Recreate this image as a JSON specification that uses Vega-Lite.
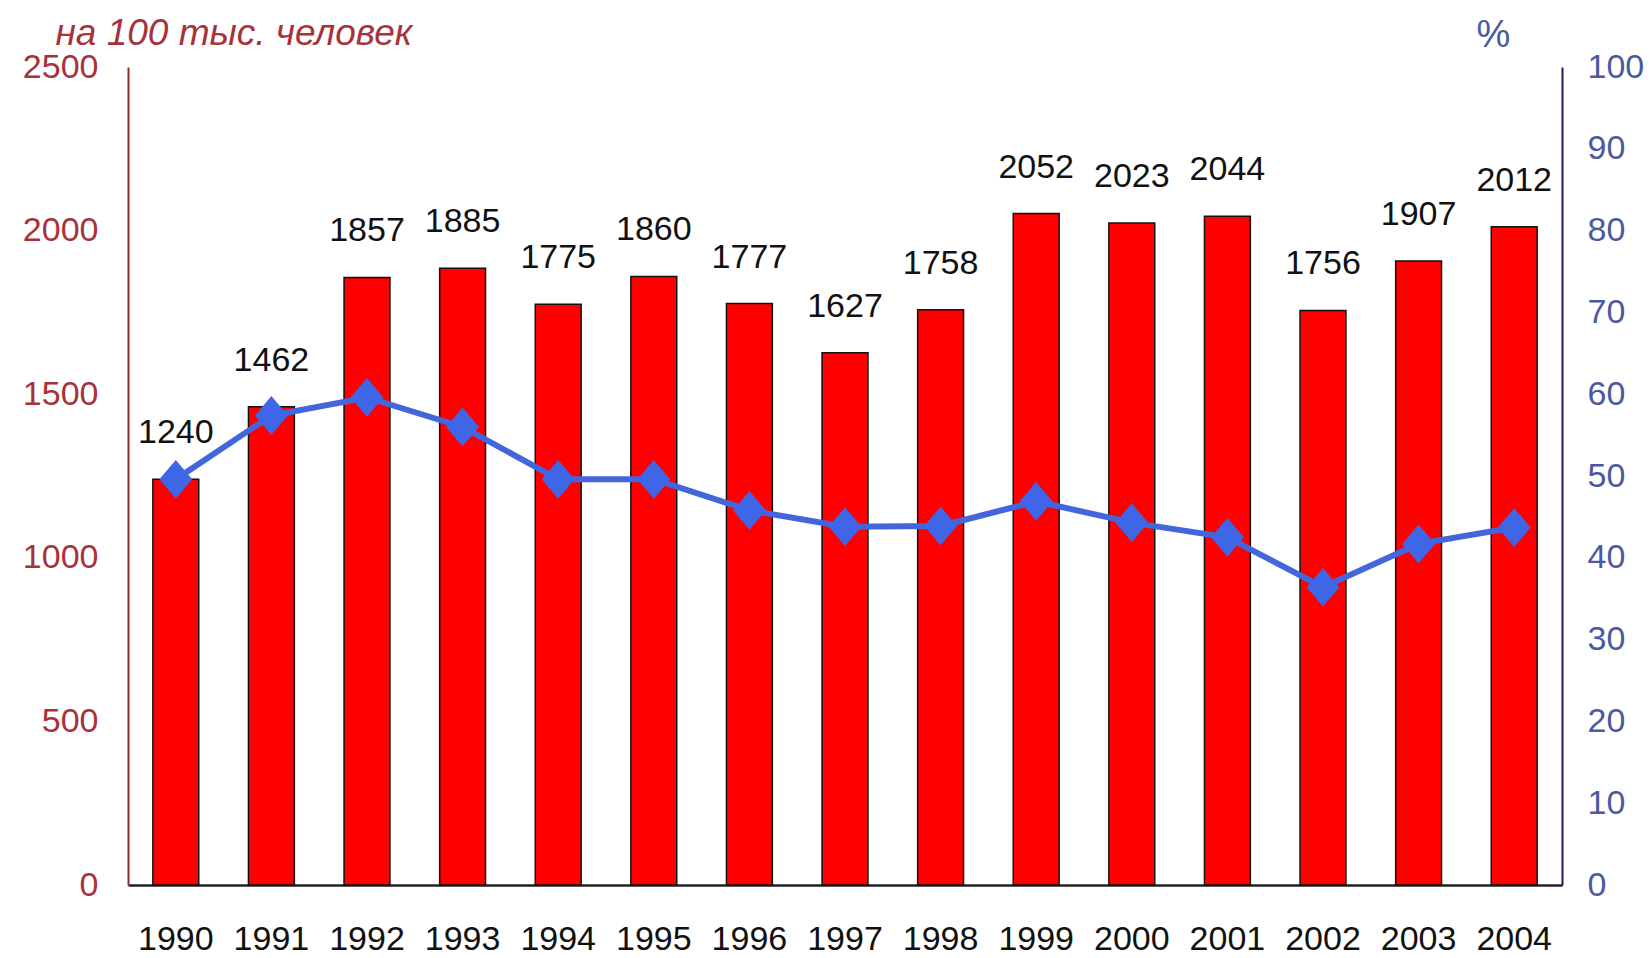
{
  "$schema": "https://vega.github.io/schema/vega-lite/v6.json",
  "autosize": {"type": "none"},
  "padding": {"left": 128, "top": 67, "right": 90, "bottom": 73},
  "width": 1434,
  "height": 818,
  "background": "white",
  "config": {
    "view": {"stroke": null},
    "font": "Liberation Sans",
    "axis": {"labelFont": "Liberation Sans", "titleFont": "Liberation Sans", "grid": false, "ticks": false, "tickSize": 0}
  },
  "data": {
    "values": [
      {"year": "1990", "value": 1240, "pct": 49.6},
      {"year": "1991", "value": 1462, "pct": 57.4},
      {"year": "1992", "value": 1857, "pct": 59.6},
      {"year": "1993", "value": 1885, "pct": 56.0},
      {"year": "1994", "value": 1775, "pct": 49.6},
      {"year": "1995", "value": 1860, "pct": 49.6},
      {"year": "1996", "value": 1777, "pct": 45.8},
      {"year": "1997", "value": 1627, "pct": 43.8},
      {"year": "1998", "value": 1758, "pct": 43.9},
      {"year": "1999", "value": 2052, "pct": 46.9},
      {"year": "2000", "value": 2023, "pct": 44.3},
      {"year": "2001", "value": 2044, "pct": 42.5},
      {"year": "2002", "value": 1756, "pct": 36.4},
      {"year": "2003", "value": 1907, "pct": 41.7},
      {"year": "2004", "value": 2012, "pct": 43.7}
    ]
  },
  "encoding": {
    "x": {
      "field": "year", "type": "ordinal",
      "scale": {"paddingInner": 0.52, "paddingOuter": 0.26},
      "axis": {
        "title": null, "labelAngle": 0, "labelFontSize": 34, "labelColor": "#111111",
        "labelPadding": 37, "domainColor": "#222222", "domainWidth": 2.5
      }
    }
  },
  "layer": [
    {
      "encoding": {
        "y": {
          "field": "value", "type": "quantitative",
          "scale": {"domain": [0, 2500], "nice": false},
          "axis": {
            "orient": "left", "values": [0, 500, 1000, 1500, 2000, 2500], "format": "d",
            "labelFontSize": 34, "labelColor": "#a8323a", "labelPadding": 30,
            "domainColor": "#8b2a2a", "domainWidth": 2,
            "title": "на 100 тыс. человек", "titleAngle": 0, "titleAlign": "left",
            "titleBaseline": "middle", "titleX": -73, "titleY": -34,
            "titleFontSize": 37, "titleFontStyle": "italic", "titleFontWeight": "normal",
            "titleColor": "#a8323a"
          }
        }
      },
      "layer": [
        {"mark": {"type": "bar", "color": "#ff0000", "stroke": "#111111", "strokeWidth": 1.5}},
        {
          "mark": {"type": "text", "dy": -46, "baseline": "middle", "align": "center", "fontSize": 34, "color": "#111111"},
          "encoding": {"text": {"field": "value", "type": "quantitative", "format": "d"}}
        }
      ]
    },
    {
      "encoding": {
        "y": {
          "field": "pct", "type": "quantitative",
          "scale": {"domain": [0, 100], "nice": false},
          "axis": {
            "orient": "right", "values": [0, 10, 20, 30, 40, 50, 60, 70, 80, 90, 100],
            "labelFontSize": 34, "labelColor": "#4b5a9e", "labelPadding": 25,
            "domainColor": "#1e1e5a", "domainWidth": 2,
            "title": "%", "titleAngle": 0, "titleAlign": "center", "titleBaseline": "middle",
            "titleX": -69, "titleY": -32, "titleFontSize": 38, "titleFontWeight": "normal",
            "titleColor": "#4b5a9e"
          }
        }
      },
      "layer": [
        {"mark": {"type": "line", "color": "#4466dd", "strokeWidth": 6}},
        {"mark": {"type": "point", "shape": "M-0.85,0L0,-1L0.85,0L0,1Z", "filled": true, "color": "#3f66e6", "size": 1500, "opacity": 1}}
      ]
    }
  ],
  "resolve": {"scale": {"y": "independent"}}
}
